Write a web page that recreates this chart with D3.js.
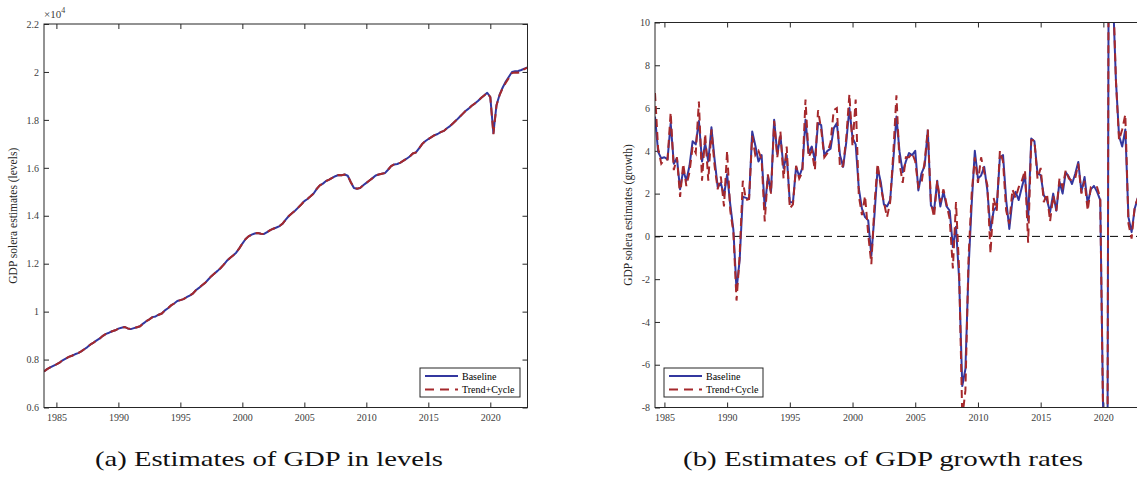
<!DOCTYPE html>
<html>
<head>
<meta charset="utf-8">
<script src="https://cdn.jsdelivr.net/npm/d3@7"></script>
<style>
  body { margin: 0; background: #fff; }
  svg text { font-family: "Liberation Serif", "Times New Roman", serif; }
</style>
</head>
<body>
<svg id="chart" width="1137" height="485"></svg>
<script>
// quarterly data, levels start 1984Q1, growth starts 1984Q2
const levelStart = 1984
const growthStart = 1984.25

// GDP levels (x 10^4)
const baselineLevel = [
  0.750, 0.760, 0.767, 0.774, 0.780, 0.787, 0.797, 0.804, 0.811, 0.816, 0.822, 0.827,
  0.834, 0.843, 0.852, 0.863, 0.871, 0.880, 0.888, 0.899, 0.907, 0.912, 0.918, 0.922,
  0.929, 0.933, 0.936, 0.930, 0.927, 0.931, 0.935, 0.939, 0.950, 0.960, 0.968, 0.977,
  0.980, 0.987, 0.992, 1.005, 1.014, 1.026, 1.034, 1.044, 1.048, 1.052, 1.060, 1.067,
  1.075, 1.089, 1.099, 1.110, 1.120, 1.134, 1.148, 1.159, 1.170, 1.182, 1.196, 1.212,
  1.224, 1.234, 1.246, 1.264, 1.284, 1.302, 1.314, 1.321, 1.326, 1.328, 1.325, 1.324,
  1.332, 1.340, 1.346, 1.351, 1.357, 1.367, 1.384, 1.399, 1.410, 1.421, 1.434, 1.447,
  1.461, 1.470, 1.481, 1.493, 1.512, 1.527, 1.534, 1.545, 1.551, 1.558, 1.565, 1.570,
  1.569, 1.572, 1.567, 1.540, 1.516, 1.513, 1.516, 1.527, 1.537, 1.547, 1.557, 1.568,
  1.572, 1.575, 1.578, 1.592, 1.607, 1.614, 1.616, 1.622, 1.630, 1.638, 1.647, 1.660,
  1.664, 1.681, 1.699, 1.711, 1.720, 1.728, 1.736, 1.741, 1.749, 1.754, 1.765, 1.774,
  1.786, 1.798, 1.811, 1.824, 1.837, 1.847, 1.859, 1.868, 1.879, 1.891, 1.902, 1.913,
  1.895, 1.745, 1.862, 1.905, 1.935, 1.960, 1.980, 2.000, 2.003, 2.004, 2.008, 2.014,
  2.019
]
const trendCycleLevel = [
  0.750, 0.760, 0.767, 0.774, 0.780, 0.787, 0.797, 0.804, 0.811, 0.816, 0.822, 0.827,
  0.834, 0.843, 0.852, 0.863, 0.871, 0.880, 0.888, 0.899, 0.907, 0.912, 0.918, 0.922,
  0.929, 0.933, 0.936, 0.930, 0.927, 0.931, 0.935, 0.939, 0.950, 0.960, 0.968, 0.977,
  0.980, 0.987, 0.992, 1.005, 1.014, 1.026, 1.034, 1.044, 1.048, 1.052, 1.060, 1.067,
  1.075, 1.089, 1.099, 1.110, 1.120, 1.134, 1.148, 1.159, 1.170, 1.182, 1.196, 1.212,
  1.224, 1.234, 1.246, 1.264, 1.284, 1.302, 1.314, 1.321, 1.326, 1.328, 1.325, 1.324,
  1.332, 1.340, 1.346, 1.351, 1.357, 1.367, 1.384, 1.399, 1.410, 1.421, 1.434, 1.447,
  1.461, 1.470, 1.481, 1.493, 1.512, 1.527, 1.534, 1.545, 1.551, 1.558, 1.565, 1.570,
  1.569, 1.572, 1.567, 1.540, 1.516, 1.513, 1.516, 1.527, 1.537, 1.547, 1.557, 1.568,
  1.572, 1.575, 1.578, 1.592, 1.607, 1.614, 1.616, 1.622, 1.630, 1.638, 1.647, 1.660,
  1.664, 1.681, 1.699, 1.711, 1.720, 1.728, 1.736, 1.741, 1.749, 1.754, 1.765, 1.774,
  1.786, 1.798, 1.811, 1.824, 1.837, 1.847, 1.859, 1.868, 1.879, 1.891, 1.902, 1.913,
  1.895, 1.740, 1.860, 1.903, 1.933, 1.955, 1.975, 1.995, 1.998, 1.997, 2.003, 2.012,
  2.018
]

// GDP growth rates (%)
const baselineGrowth = [
  5.6, 3.95, 3.65, 3.7, 3.6, 5.3, 3.4, 3.65, 2.2, 3.1,
  2.6, 3.3, 4.45, 4.3, 5.4, 3.5, 4.35, 3.5, 5.1, 3.6,
  2.3, 2.5, 1.9, 2.9, 1.5, 0.3, -2.5, -1.1, 1.85, 1.8,
  1.75, 4.9, 4.25, 3.5, 3.8, 1.3, 2.8, 2.1, 5.45, 3.85,
  4.7, 3.2, 3.8, 1.6, 1.6, 3.25, 2.8, 3.2, 5.45, 3.9,
  4.2, 3.55, 5.3, 5.2, 3.8, 4.0, 4.1, 5.05, 5.3, 3.8,
  3.25, 4.4, 6.0, 4.6, 4.3, 2.25, 1.3, 0.9, 0.75, -0.9,
  1.0, 3.2, 2.55, 1.5, 1.4, 1.7, 3.55, 5.6, 3.95, 3.0,
  3.5, 3.9, 3.8, 4.0, 2.15, 2.95, 3.3, 4.95, 1.45, 1.2,
  2.6, 1.4, 2.1, 1.4, 1.2, -0.5, 0.45, -2.0, -7.0, -6.2,
  -1.5, 1.5, 4.0, 2.7, 2.85, 3.25, 2.15, 0.3, 1.2, 1.4,
  3.7, 3.8, 1.7, 0.35, 1.7, 2.08, 1.7, 2.3, 2.86, 0.75,
  4.58, 4.45, 2.94, 2.86, 1.92, 1.7, 1.14, 2.0, 1.2, 2.55,
  2.0, 3.0, 2.78, 2.45, 2.92, 3.48, 2.08, 2.78, 1.53, 2.2,
  2.36, 2.08, 1.7, -9.0, -30.0, 33.0, 11.5, 7.3, 4.7, 4.2,
  5.0, 0.9, 0.2, 1.3, 1.8, 2.0
]
const trendCycleGrowth = [
  6.7, 4.1, 3.4, 3.6, 3.6, 5.8, 3.1, 3.7, 1.85, 3.4,
  2.35, 3.0, 4.2, 3.9, 6.3, 2.6, 4.8, 2.6, 5.0, 3.3,
  2.2, 2.8, 1.4, 4.0, 1.2, 0.2, -3.0, -0.9, 2.6, 1.7,
  1.75, 4.7, 3.8, 4.0, 3.6, 0.7, 2.9, 2.0, 5.4, 3.7,
  4.9, 2.7, 4.2, 1.3, 1.5, 3.3, 2.7, 3.0, 6.4, 3.7,
  4.0, 3.1, 5.9, 5.0, 3.7, 3.9, 4.4, 5.9, 6.0, 3.2,
  3.3, 4.6, 6.65, 4.2, 6.4, 1.9, 1.0, 1.9, 0.1, -1.3,
  1.5, 3.4, 2.3, 1.6, 0.9, 1.6, 3.9, 6.6, 3.4, 2.5,
  3.7, 3.7, 3.9, 3.5, 2.3, 2.5, 3.5, 5.0, 1.6, 0.9,
  2.6, 1.6, 2.2, 1.5, 0.8, -1.5, 1.6, -1.6, -8.5, -7.2,
  -1.0, 2.0, 3.7, 2.5, 3.7, 3.0, 2.4, -0.8, 1.8, 1.2,
  4.0, 3.5, 1.2, 0.6, 2.2, 1.8, 2.3, 2.6, 3.1, -0.3,
  4.5, 4.5, 2.7, 3.2, 1.6, 2.0, 0.7, 1.9, 1.2, 2.7,
  2.3, 3.1, 2.7, 2.6, 2.7, 3.4, 2.0, 2.6, 1.2, 2.3,
  2.3, 2.3, 1.8, -9.5, -31.0, 35.0, 12.0, 7.3, 4.5, 5.0,
  5.7, 0.6, -0.1, 1.4, 1.8, 2.0
]

const yearTicks = [1985, 1990, 1995, 2000, 2005, 2010, 2015, 2020]
const levelTicks = [0.6, 0.8, 1, 1.2, 1.4, 1.6, 1.8, 2, 2.2]
const growthTicks = [-8, -6, -4, -2, 0, 2, 4, 6, 8, 10]
const seriesNames = ['Baseline', 'Trend+Cycle']
const captions = ['(a) Estimates of GDP in levels', '(b) Estimates of GDP growth rates']

const blue = '#33379f'
const red = '#a5292c'
const axisColor = '#262626'
const labelColor = '#404040'

const svg = d3.select('#chart')

const toSeries = (values, start) => values.map((v, i) => ({ t: start + i / 4, v }))

const drawPanel = (opts) => {
  const { id, x, y, ticks, tickFmt, yTitle, titleX, series, legend, zeroLine, rightTicks } = opts
  const [x0, x1] = x.range()
  const [y0, y1] = y.range()
  const g = svg.append('g').attr('class', id)

  svg.append('clipPath').attr('id', `clip-${id}`)
    .append('rect')
    .attr('x', x0).attr('y', y1)
    .attr('width', x1 - x0).attr('height', y0 - y1)

  const tick = 5
  const fixAxis = sel => {
    sel.select('.domain').remove()
    sel.selectAll('line').attr('stroke', axisColor)
    sel.selectAll('text')
      .attr('fill', labelColor)
      .style('font-size', '10px')
      .style('font-family', '"Liberation Serif", serif')
  }

  g.append('g').attr('transform', `translate(0,${y0})`)
    .call(d3.axisBottom(x).tickValues(yearTicks).tickSize(-tick).tickPadding(6).tickFormat(d3.format('d')))
    .call(fixAxis)
  g.append('g').attr('transform', `translate(0,${y1})`)
    .call(d3.axisTop(x).tickValues(yearTicks).tickSize(-tick).tickFormat(''))
    .call(fixAxis)
  g.append('g').attr('transform', `translate(${x0},0)`)
    .call(d3.axisLeft(y).tickValues(ticks).tickSize(-tick).tickPadding(5).tickFormat(tickFmt))
    .call(fixAxis)
  if (rightTicks) {
    g.append('g').attr('transform', `translate(${x1},0)`)
      .call(d3.axisRight(y).tickValues(ticks).tickSize(-tick).tickFormat(''))
      .call(fixAxis)
  }

  if (zeroLine) {
    g.append('line')
      .attr('x1', x0).attr('x2', x1)
      .attr('y1', y(0)).attr('y2', y(0))
      .attr('stroke', '#000')
      .attr('stroke-width', 1)
      .attr('stroke-dasharray', '8,5')
  }

  const line = d3.line().x(d => x(d.t)).y(d => y(d.v))
  const lines = g.append('g').attr('clip-path', `url(#clip-${id})`)
  lines.append('path')
    .datum(series[0])
    .attr('d', line)
    .attr('fill', 'none')
    .attr('stroke', blue)
    .attr('stroke-width', 2)
    .attr('stroke-linejoin', 'round')
  lines.append('path')
    .datum(series[1])
    .attr('d', line)
    .attr('fill', 'none')
    .attr('stroke', red)
    .attr('stroke-width', 2)
    .attr('stroke-dasharray', '8,5')

  g.append('rect')
    .attr('x', x0).attr('y', y1)
    .attr('width', x1 - x0).attr('height', y0 - y1)
    .attr('fill', 'none')
    .attr('stroke', axisColor)
    .attr('stroke-width', 1)

  g.append('text')
    .attr('transform', `translate(${titleX},${(y0 + y1) / 2}) rotate(-90)`)
    .attr('text-anchor', 'middle')
    .attr('fill', axisColor)
    .style('font-size', '11.5px')
    .text(yTitle)

  // legend
  const lg = g.append('g').attr('transform', `translate(${legend.x},${legend.y})`)
  lg.append('rect')
    .attr('width', legend.w).attr('height', 29)
    .attr('fill', '#fff')
    .attr('stroke', axisColor)
    .attr('stroke-width', 1)
  seriesNames.forEach((name, i) => {
    const ly = 8 + i * 13.5
    lg.append('line')
      .attr('x1', 5).attr('x2', 38)
      .attr('y1', ly).attr('y2', ly)
      .attr('stroke', i === 0 ? blue : red)
      .attr('stroke-width', 2)
      .attr('stroke-dasharray', i === 0 ? null : '9,6')
    lg.append('text')
      .attr('x', 42).attr('y', ly + 3.5)
      .attr('fill', '#000')
      .style('font-size', '10px')
      .text(name)
  })
  return g
}

// panel (a) levels
const xLevel = d3.scaleLinear().domain([levelStart, 2023]).range([44, 527.5])
const yLevel = d3.scaleLinear().domain([0.6, 2.2]).range([407.5, 24])
const levelPanel = drawPanel({
  id: 'levels',
  x: xLevel,
  y: yLevel,
  ticks: levelTicks,
  tickFmt: d => String(+d.toFixed(1)),
  yTitle: 'GDP solera estimates (levels)',
  titleX: 17,
  series: [toSeries(baselineLevel, levelStart), toSeries(trendCycleLevel, levelStart)],
  legend: { x: 420, y: 368, w: 100 },
  zeroLine: false,
  rightTicks: true
})
const mult = levelPanel.append('text')
  .attr('x', 44).attr('y', 18)
  .attr('fill', labelColor)
  .style('font-size', '11px')
mult.append('tspan').text('\u00d710')
mult.append('tspan').attr('dy', -5).style('font-size', '8px').text('4')

// panel (b) growth
const xGrowth = d3.scaleLinear().domain([growthStart, 2023]).range([655, 1141])
const yGrowth = d3.scaleLinear().domain([-8, 10]).range([407.5, 22.5])
drawPanel({
  id: 'growth',
  x: xGrowth,
  y: yGrowth,
  ticks: growthTicks,
  tickFmt: d => String(d),
  yTitle: 'GDP solera estimates (growth)',
  titleX: 632,
  series: [toSeries(baselineGrowth, growthStart), toSeries(trendCycleGrowth, growthStart)],
  legend: { x: 664, y: 368, w: 99 },
  zeroLine: true,
  rightTicks: false
})

// captions
const capPos = [{ x: 95, w: 348 }, { x: 683, w: 400 }]
captions.forEach((c, i) => {
  svg.append('text')
    .attr('x', capPos[i].x).attr('y', 466)
    .attr('textLength', capPos[i].w)
    .attr('lengthAdjust', 'spacingAndGlyphs')
    .attr('fill', '#111')
    .style('font-size', '22px')
    .text(c)
})
</script>
</body>
</html>
